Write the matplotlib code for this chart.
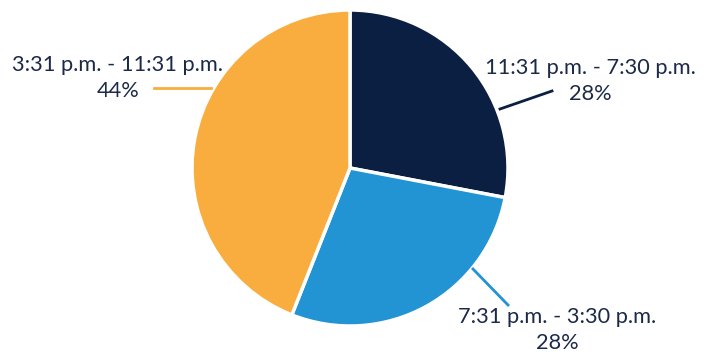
import matplotlib
matplotlib.use('Agg')
import matplotlib.pyplot as plt

# Shift share data
labels = ["11:31 p.m. - 7:30 p.m.", "7:31 p.m. - 3:30 p.m.", "3:31 p.m. - 11:31 p.m."]
shares = [28, 28, 44]
colors = ["#0b1f42", "#2394d3", "#f9ad3e"]
textColor = "#1c2a48"

W, H = 710, 354
fig = plt.figure(figsize=(W/100, H/100), dpi=100)
ax = fig.add_axes([0, 0, 1, 1])

# pie in pixel coordinates (y measured from bottom)
ax.pie(
    shares,
    colors=colors,
    startangle=90,
    counterclock=False,
    center=(350, H-168),
    radius=158,
    wedgeprops=dict(edgecolor="white", linewidth=2.5),
    frame=True,
)
ax.set_xlim(0, W)
ax.set_ylim(0, H)
ax.set_aspect("equal")
ax.axis("off")

# Leader lines
ax.plot([500, 552], [H-109, H-91], color=colors[0], linewidth=2)
ax.plot([473, 508], [H-269, H-305], color=colors[1], linewidth=2)
ax.plot([154, 211], [H-88, H-88], color=colors[2], linewidth=2)

# Labels
fs = 15.7
font = "Lato"
ax.text(590, H-81, "{}\n{}%".format(labels[0], shares[0]), ha="center", va="center",
        fontsize=fs, family=font, color=textColor, linespacing=1.42)
ax.text(557, H-330, "{}\n{}%".format(labels[1], shares[1]), ha="center", va="center",
        fontsize=fs, family=font, color=textColor, linespacing=1.42)
ax.text(118, H-78, "{}\n{}%".format(labels[2], shares[2]), ha="center", va="center",
        fontsize=fs, family=font, color=textColor, linespacing=1.42)

plt.savefig("out.png", dpi=100)
plt.close()
